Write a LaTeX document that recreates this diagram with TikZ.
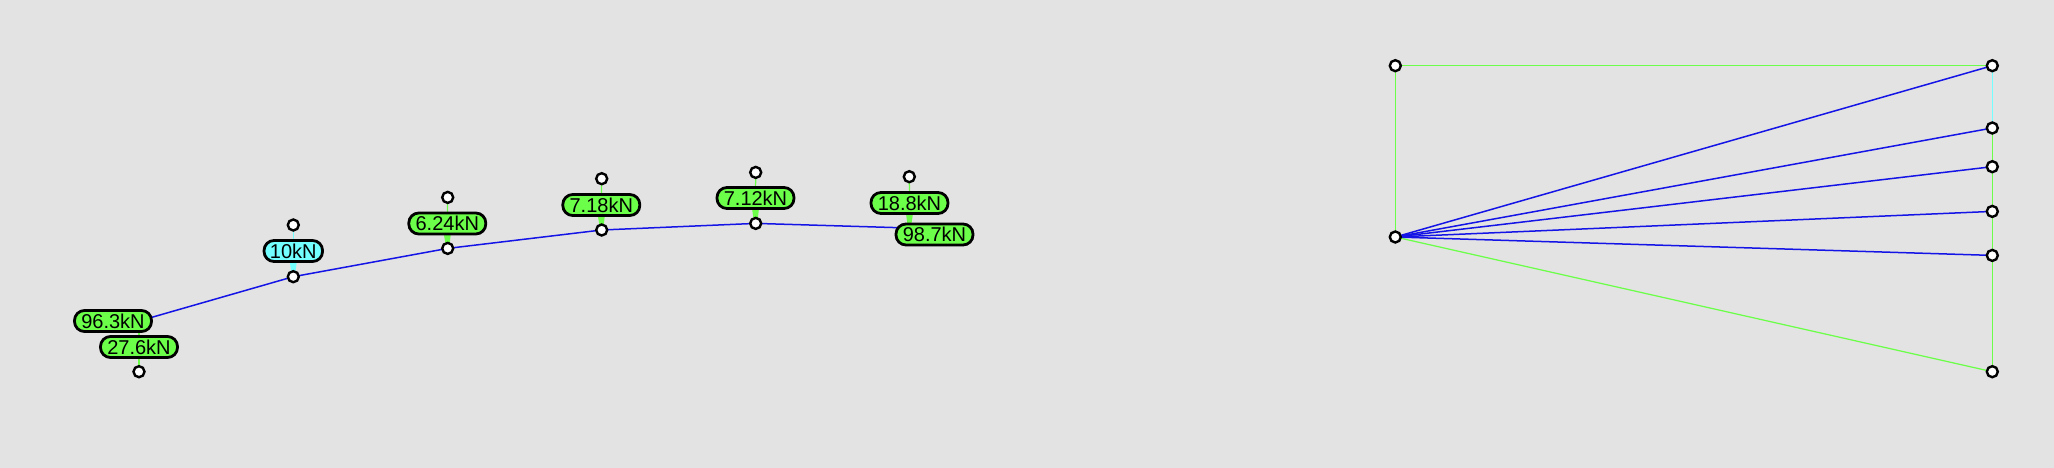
\documentclass[tikz,border=0pt]{standalone}
\usepackage{fontspec}
\setmainfont{Liberation Sans}
\usetikzlibrary{calc}
\definecolor{bgc}{HTML}{E3E3E3}
\definecolor{gre}{HTML}{6CFF4A}
\definecolor{cya}{HTML}{73FFFF}
\definecolor{blu}{HTML}{1414E6}
\pgfdeclarelayer{back}
\pgfdeclarelayer{conn}
\pgfsetlayers{back,conn,main}
\tikzset{
  joint/.style={circle,draw=black,fill=white,line width=2.4pt,minimum size=11pt,inner sep=0pt,outer sep=0pt},
  tag/.style={rounded corners=10pt,draw=black,line width=2.8pt,minimum width=77pt,minimum height=21pt,inner sep=0pt,outer sep=0pt,text=black,font=\fontsize{20}{20}\selectfont},
  greentag/.style={tag,fill=gre},
  cyantag/.style={tag,fill=cya,minimum width=58.5pt},
  beam/.style={blu,line width=1.5pt},
  gstrut/.style={gre,line width=1.25pt},
  cstrut/.style={cya,line width=1.25pt},
}
\newcommand{\taper}[3]{\fill[#1] ($(#3.center)+(-1.5,0)$) -- ($(#3.center)+(1.5,0)$) -- ($(#2.south)+(3.5,0)$) -- ($(#2.south)+(-3.5,0)$) -- cycle;}
\begin{document}
\begin{tikzpicture}[x=1pt,y=-1pt]
\useasboundingbox (0,0) rectangle (2054,468);
\begin{pgfonlayer}{back}
\fill[bgc] (0,0) rectangle (2054,468);
\end{pgfonlayer}
% left figure: hidden beam ends under the tags
\coordinate (e0) at (139,321);
\coordinate (e6) at (909.3,228);
\node[joint] (b1) at (293.3,276.7) {};
\node[joint] (b2) at (447.7,248.4) {};
\node[joint] (b3) at (601.7,230) {};
\node[joint] (b4) at (755.7,223.4) {};
\node[joint] (t0) at (139,371.7) {};
\node[joint] (t1) at (293.3,225) {};
\node[joint] (t2) at (447.7,197.4) {};
\node[joint] (t3) at (601.7,178.7) {};
\node[joint] (t4) at (755.7,172.4) {};
\node[joint] (t6) at (909.3,176.7) {};
\node[greentag] (l0a) at (113,321) {96.3kN};
\node[greentag] (l0b) at (139,347) {27.6kN};
\node[cyantag] (l1) at (293.3,251) {10kN};
\node[greentag] (l2) at (447.3,223.5) {6.24kN};
\node[greentag] (l3) at (601.3,205) {7.18kN};
\node[greentag] (l4) at (755.5,198) {7.12kN};
\node[greentag] (l6a) at (909.5,203) {18.8kN};
\node[greentag] (l6b) at (934.5,234.5) {98.7kN};
% right figure
\node[joint] (p0) at (1395.3,65.7) {};
\node[joint] (p1) at (1395.3,237) {};
\node[joint] (q0) at (1992.3,65.7) {};
\node[joint] (q1) at (1992.3,128) {};
\node[joint] (q2) at (1992.3,166.7) {};
\node[joint] (q3) at (1992.3,211.4) {};
\node[joint] (q4) at (1992.3,255.4) {};
\node[joint] (q5) at (1992.3,371.7) {};
\begin{pgfonlayer}{conn}
\draw[gstrut] (l0b) -- (t0);
\draw[gstrut] (e0) -- (l0b);
\draw[cstrut] (l1) -- (t1);
\draw[gstrut] (l2) -- (t2);
\draw[gstrut] (l3) -- (t3);
\draw[gstrut] (l4) -- (t4);
\draw[gstrut] (l6a) -- (t6);
\taper{cya}{l1}{b1}
\taper{gre}{l2}{b2}
\taper{gre}{l3}{b3}
\taper{gre}{l4}{b4}
\taper{gre}{l6a}{e6}
\draw[beam] (e0) -- (b1) -- (b2) -- (b3) -- (b4) -- (e6);
\draw[gstrut] (p0) -- (q0);
\draw[gstrut] (p0) -- (p1);
\draw[gstrut] (p1) -- (q5);
\draw[cstrut] (q0) -- (q1);
\draw[gstrut] (q1) -- (q2);
\draw[gstrut] (q2) -- (q3);
\draw[gstrut] (q3) -- (q4);
\draw[gstrut] (q4) -- (q5);
\draw[beam] (p1) -- (q0);
\draw[beam] (p1) -- (q1);
\draw[beam] (p1) -- (q2);
\draw[beam] (p1) -- (q3);
\draw[beam] (p1) -- (q4);
\end{pgfonlayer}
\end{tikzpicture}
\end{document}
